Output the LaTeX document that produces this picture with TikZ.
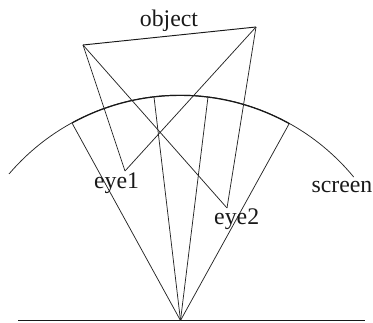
\documentclass[tikz,border=0pt]{standalone}
\usepackage{fontspec}
\setmainfont{Liberation Serif}
\tikzset{
  ray/.style={draw=black!85,line width=0.75pt},
  edge/.style={draw=black!90,line width=0.95pt},
  lbl/.style={inner sep=0pt,anchor=base,font=\fontsize{23.8}{25}\selectfont,text=black!90},
}
\begin{document}
\begin{tikzpicture}[x=1pt,y=-1pt]
\useasboundingbox (0,0) rectangle (373,323);
\coordinate (A) at (83,45);
\coordinate (B) at (256,27);
\coordinate (E1) at (125,171);
\coordinate (E2) at (227,208);
\coordinate (O) at (180.5,320.5);
\coordinate (L) at (18,320.5);
\coordinate (R) at (365,320.5);
\coordinate (P1) at (72,123);
\coordinate (P2) at (154,97);
\coordinate (P3) at (208,97);
\coordinate (P4) at (289,124);
\coordinate (SL) at (9,174);
% screen arc
\draw[ray] (SL) arc[start angle=-139.5,end angle=-39.5,radius=225];
\draw[edge,line width=1.2pt] (P1) arc[start angle=-118.7,end angle=-60.9,radius=225];
% base line
\draw[edge] (L) -- (R);
% rays
\draw[ray] (O) -- (P1);
\draw[ray] (O) -- (P2);
\draw[ray] (O) -- (P3);
\draw[ray] (O) -- (P4);
% object and eyes
\draw[edge] (A) -- (B);
\draw[ray] (A) -- (E1);
\draw[ray] (A) -- (E2);
\draw[ray] (B) -- (E1);
\draw[ray] (B) -- (E2);
% labels
\node[lbl] (object) at (169,27) {object};
\node[lbl] (eye1) at (116.5,189) {eye1};
\node[lbl] (eye2) at (236.7,225) {eye2};
\node[lbl] (screen) at (342,193) {screen};
\end{tikzpicture}
\end{document}
